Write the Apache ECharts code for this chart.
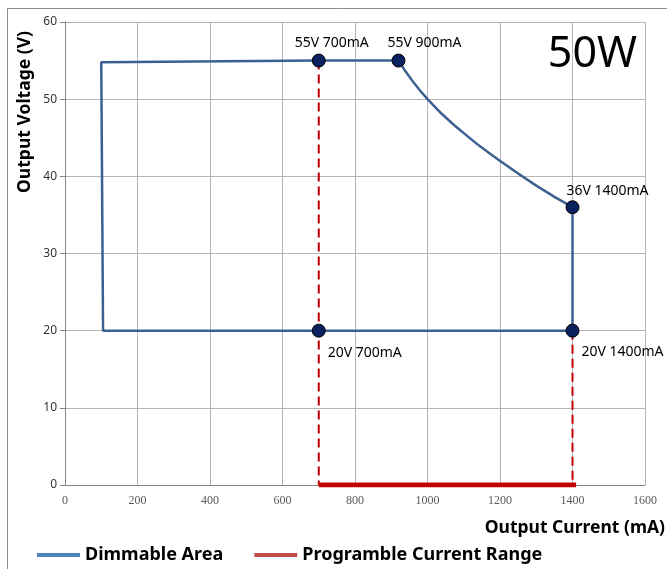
<!DOCTYPE html>
<html><head><meta charset="utf-8">
<script src="https://cdn.jsdelivr.net/npm/echarts@6/dist/echarts.min.js"></script>
<style>html,body{margin:0;padding:0;background:#fff}#c{width:667px;height:569px}</style>
</head><body><div id="c"></div>
<script>
// Data
const xTicks = [0,200,400,600,800,1000,1200,1400,1600];
const yTicks = [0,10,20,30,40,50,60];
const dimmableStraight = [[920,55],[700,55],[100,54.8],[105,20],[700,20],[1400,20],[1400,36]];
const dimmableCurve = [[920,55],[1000,50],[1100,45.6],[1200,42],[1300,38.8],[1400,36]];
const progDash1 = [[700,55],[700,0]];
const progDash2 = [[1400,20],[1400,0]];
const progRange = [[700,0],[1410,0]];
const keyPoints = [[700,55],[920,55],[1400,36],[700,20],[1400,20]];
const keyLabels = ['55V 700mA','55V 900mA','36V 1400mA','20V 700mA','20V 1400mA'];
const labelOffsets = [[13,-18],[26,-18],[35,-16],[46,22],[50,21]];

const blue = '#3c6191', red = '#c00000';
const chart = echarts.init(document.getElementById('c'));
chart.setOption({
  animation:false,
  grid:{left:65,right:22,top:22,bottom:84},
  xAxis:{type:'value',min:0,max:1600,interval:200,
    axisLine:{show:true,lineStyle:{color:'#868686'}},axisTick:{show:false},
    axisLabel:{fontFamily:'Liberation Serif',fontSize:12,color:'#595959',margin:10,formatter:v=>String(v)},
    splitLine:{show:true,lineStyle:{color:'#b4b4b4'}}},
  yAxis:{type:'value',min:0,max:60,interval:10,
    axisLine:{show:true,lineStyle:{color:'#868686'}},axisTick:{show:true,length:5,lineStyle:{color:'#868686'}},
    axisLabel:{fontFamily:'Noto Sans',fontSize:12,color:'#333',margin:8,formatter:v=>String(v)},
    splitLine:{show:true,lineStyle:{color:'#b4b4b4'}}},
  legend:{left:32,top:541,itemWidth:43,itemHeight:4,itemGap:31,icon:'rect',
    textStyle:{fontFamily:'Noto Sans',fontWeight:'bold',fontSize:18,color:'#000'},
    data:[{name:'Dimmable Area',itemStyle:{color:'#4f81bd'}},{name:'Programble Current Range',itemStyle:{color:'#c0504d'}}]},
  graphic:[
    {type:'rect',shape:{x:7.5,y:8.5,width:700,height:600},style:{fill:'none',stroke:'#8c8c8c',lineWidth:1},silent:true},
    {type:'text',x:637,y:76,style:{text:'50W',fontFamily:'Noto Sans',fontSize:43,fill:'#000',textAlign:'right',textVerticalAlign:'bottom'}},
    {type:'text',x:665,y:528,style:{text:'Output Current (mA)',fontFamily:'Noto Sans',fontWeight:'bold',fontSize:17.5,fill:'#000',textAlign:'right',textVerticalAlign:'middle'}},
    {type:'text',x:25,y:112,rotation:Math.PI/2,style:{text:'Output Voltage (V)',fontFamily:'Noto Sans',fontWeight:'bold',fontSize:17.5,fill:'#000',textAlign:'center',textVerticalAlign:'middle'}}
  ],
  series:[
    {name:'Programble Current Range',type:'line',data:progDash1,symbol:'none',lineStyle:{color:red,width:2,type:[9,5]},z:2},
    {name:'Programble Current Range',type:'line',data:progDash2,symbol:'none',lineStyle:{color:red,width:2,type:[9,5]},z:2},
    {name:'Programble Current Range',type:'line',data:progRange,symbol:'none',lineStyle:{color:red,width:5},z:2},
    {name:'Dimmable Area',type:'line',data:dimmableStraight,symbol:'none',lineStyle:{color:blue,width:2.5},z:3},
    {name:'Dimmable Area',type:'line',data:dimmableCurve,symbol:'none',smooth:true,lineStyle:{color:blue,width:2.5},z:3},
    {name:'points',type:'scatter',symbolSize:13,z:5,
      itemStyle:{color:'#0a2160',borderColor:'#000',borderWidth:1,opacity:1},
      data:keyPoints.map((p,i)=>({value:p,label:{show:true,position:'inside',offset:labelOffsets[i],formatter:keyLabels[i],
        fontFamily:'Noto Sans',fontSize:14,color:'#000'}}))}
  ]
});
</script></body></html>
